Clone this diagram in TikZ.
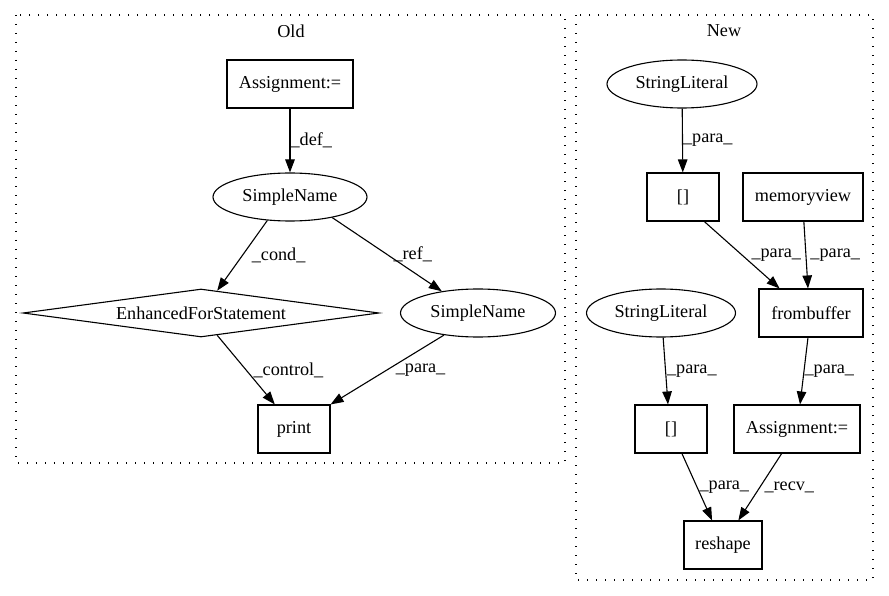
\documentclass[tikz,border=0pt]{standalone}
\usepackage{fontspec}
\setmainfont{Liberation Serif}
\usetikzlibrary{shapes.geometric,arrows.meta}
\begin{document}
\begin{tikzpicture}[x=1pt,y=-1pt,
  every node/.style={font=\fontsize{18.2}{21}\selectfont, line width=1.1pt},
  box/.style={draw, rectangle, minimum height=48pt, inner sep=0pt},
  ell/.style={draw, ellipse, minimum height=48pt, inner sep=0pt},
  dia/.style={draw, diamond, shape aspect=7.4, minimum width=356pt, minimum height=48pt, inner sep=0pt},
  arr/.style={-{Triangle[length=13pt,width=9.5pt]}, line width=1.1pt},
  lbl/.style={anchor=west, inner sep=0pt, pos=0.5},
  clus/.style={draw, line width=1.3pt, dash pattern=on 1.4pt off 7.6pt}
]
\useasboundingbox (0,0) rectangle (889,596);
% clusters
\draw[clus] (16,15) rectangle (565,463);
\draw[clus] (576,15) rectangle (873,580);
\node (toldt) at (291,31) {Old};
\node (tnewt) at (724,31) {New};
% Old nodes
\node[box, minimum width=126pt] (oa) at (290,84) {Assignment:=};
\node[ell, minimum width=154pt] (osn) at (290,197) {SimpleName};
\node[dia] (ofor) at (201,313) {EnhancedForStatement};
\node[ell, minimum width=155pt] (osn2) at (478,313) {SimpleName};
\node[box, minimum width=72pt] (oprint) at (294,429) {print};
% New nodes
\node[ell, minimum width=150pt] (nsl1) at (682,84) {StringLiteral};
\node[box, minimum width=72pt] (nb1) at (683,197) {[]};
\node[box, minimum width=120pt] (nmv) at (803,197) {memoryview};
\node[box, minimum width=104pt] (nfb) at (811,313) {frombuffer};
\node[ell, minimum width=149pt] (nsl2) at (661,313) {StringLiteral};
\node[box, minimum width=72pt] (nb2) at (671,429) {[]};
\node[box, minimum width=126pt] (na2) at (797,429) {Assignment:=};
\node[box, minimum width=78pt] (nre) at (723,545) {reshape};
% Old edges
\draw[arr] (oa) -- (osn) node[lbl]{\_def\_};
\draw[arr] (osn.226) -- (ofor.54) node[lbl, xshift=9pt]{\_cond\_};
\draw[arr] (osn.334.5) -- (osn2.149) node[lbl, xshift=6pt]{\_ref\_};
\draw[arr] (ofor.306.5) -- (oprint.128.4) node[lbl, xshift=7pt]{\_control\_};
\draw[arr] (osn2.213.3) -- (oprint.north east) node[lbl, xshift=8pt]{\_para\_};
% New edges
\draw[arr] (nsl1) -- (nb1) node[lbl]{\_para\_};
\draw[arr] (nb1.311.3) -- (nfb.142) node[lbl, xshift=9pt]{\_para\_};
\draw[arr] (nmv.272) -- (nfb.97) node[lbl, xshift=4pt]{\_para\_};
\draw[arr] (nfb.263) -- (na2.83) node[lbl]{\_para\_};
\draw[arr] (nsl2.275) -- (nb2.97) node[lbl, xshift=1pt]{\_para\_};
\draw[arr] (nb2.294.6) -- (nre.114.6) node[lbl, xshift=2pt]{\_para\_};
\draw[arr] (na2.238) -- (nre.58) node[lbl, xshift=4pt]{\_recv\_};
\end{tikzpicture}
\end{document}
